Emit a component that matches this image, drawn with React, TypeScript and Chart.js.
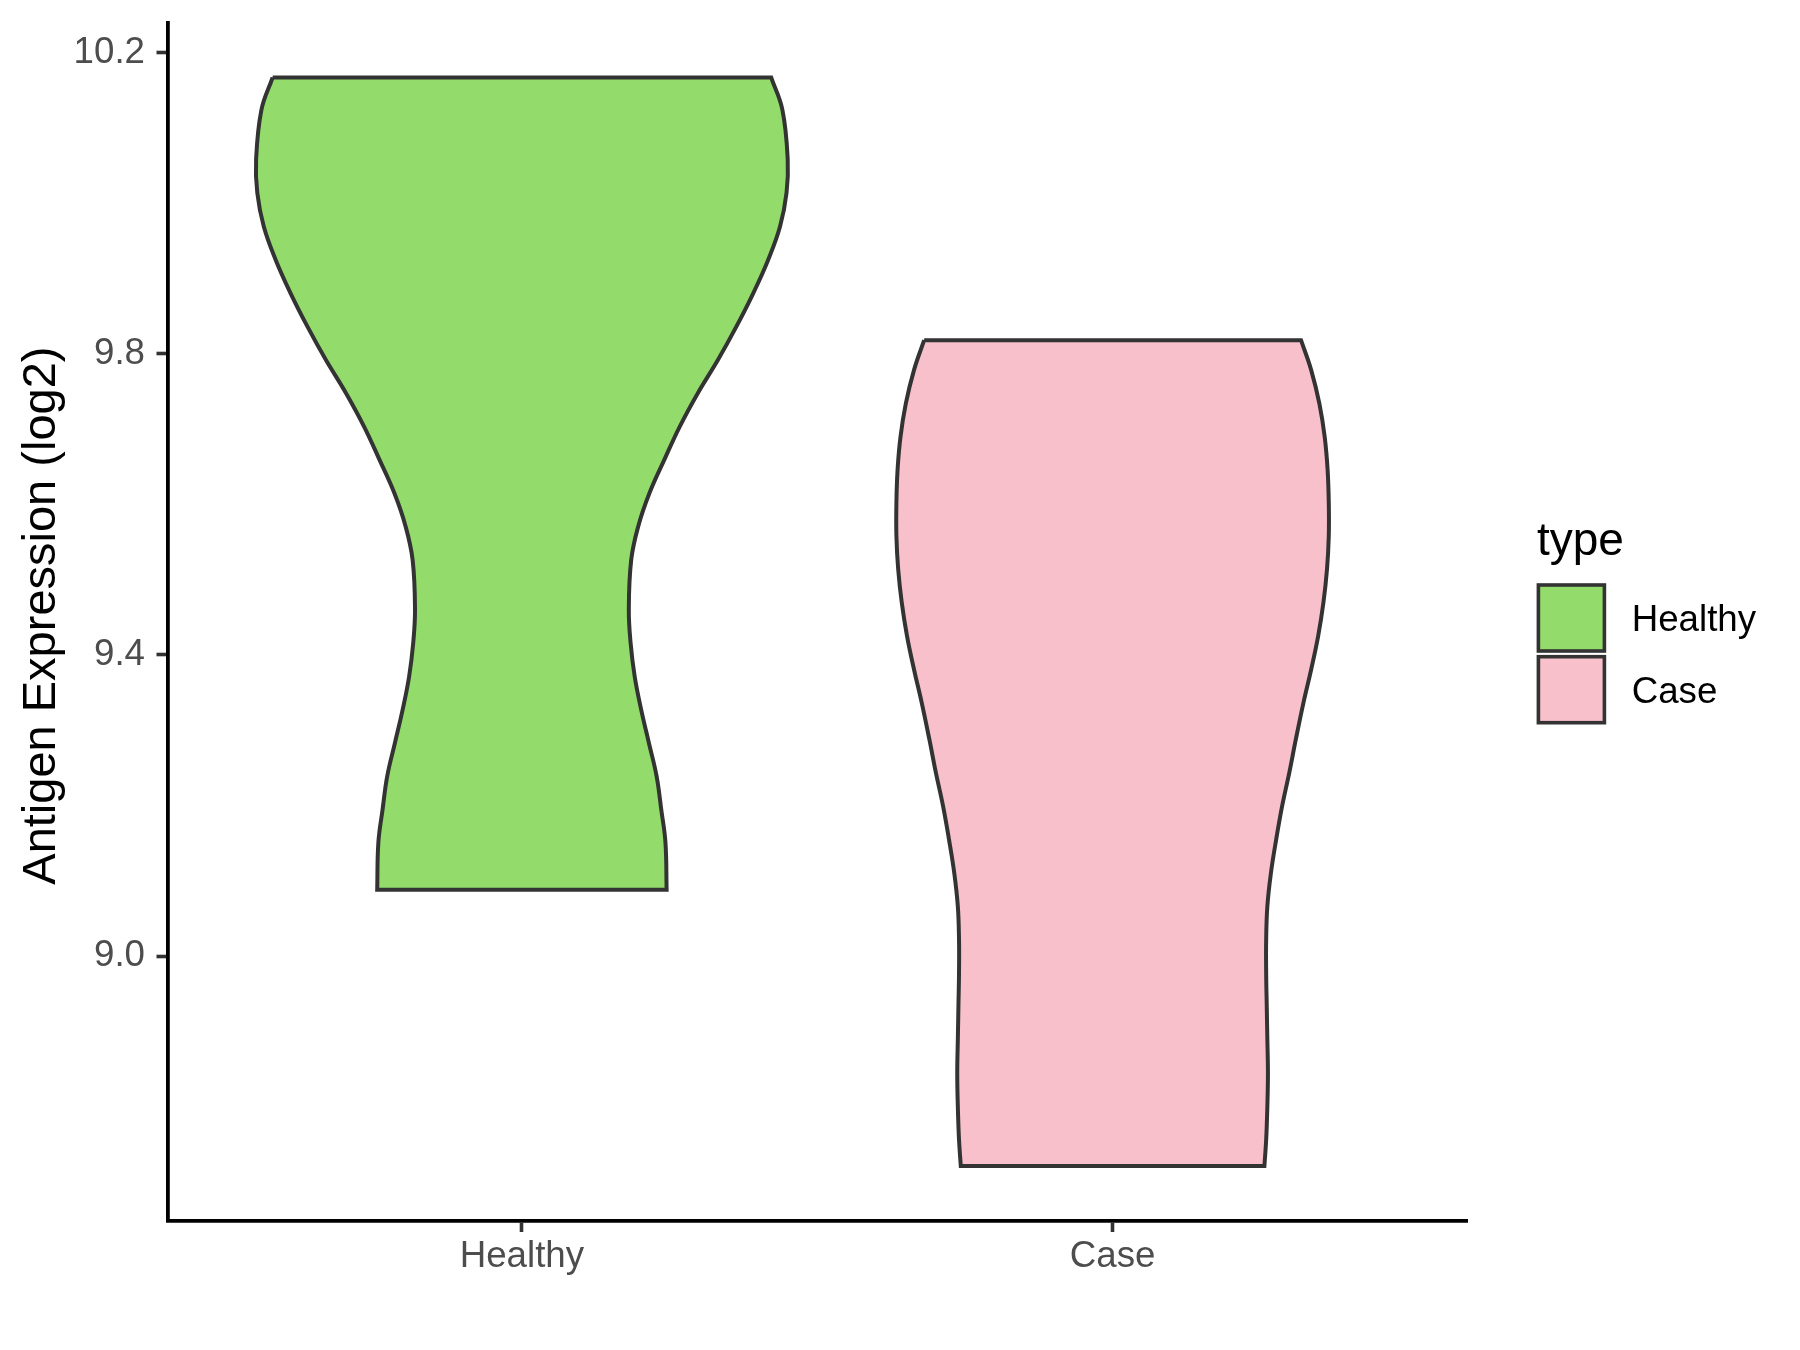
import React, { useEffect, useRef } from "react";
import { Chart, registerables } from "chart.js";

Chart.register(...registerables);

// ---- data ----
const categories = ["Healthy", "Case"];
const fillColors = ["#93DC6B", "#F7C0CB"];
const yTicks = [9.0, 9.4, 9.8, 10.2];
const legendTitle = "type";
const yTitle = " Antigen Expression (log2)";

// Healthy violin: y values (top -> bottom) and half-widths (category units)
const healthyY = [
  10.167, 10.124, 10.058, 10.014, 9.969, 9.925, 9.881, 9.836, 9.792, 9.748,
  9.703, 9.659, 9.615, 9.571, 9.526, 9.46, 9.416, 9.371, 9.327, 9.283,
  9.239, 9.194, 9.151, 9.088,
];
const healthyHalf = [
  0.422, 0.441, 0.45, 0.448, 0.437, 0.417, 0.392, 0.363, 0.332, 0.298, 0.267,
  0.241, 0.216, 0.197, 0.185, 0.181, 0.184, 0.191, 0.202, 0.215, 0.228,
  0.236, 0.243, 0.245,
];

// Case violin
const caseY = [
  9.818, 9.779, 9.734, 9.69, 9.646, 9.602, 9.558, 9.514, 9.47, 9.425, 9.38,
  9.336, 9.287, 9.243, 9.199, 9.155, 9.11, 9.066, 9.022, 8.977, 8.933,
  8.889, 8.845, 8.8, 8.756, 8.721,
];
const caseHalf = [
  0.319, 0.336, 0.35, 0.359, 0.364, 0.366, 0.366, 0.363, 0.357, 0.348, 0.336,
  0.323, 0.31, 0.299, 0.287, 0.277, 0.268, 0.262, 0.26, 0.26, 0.261,
  0.262, 0.263, 0.262, 0.26, 0.257,
];

const FONT = "'Liberation Sans', Arial, Helvetica, sans-serif";

function violinPolygon(center: number, ys: number[], half: number[]) {
  const pts: { x: number; y: number }[] = [];
  const n = ys.length;
  // corners are duplicated so that the flat top/bottom edges stay straight
  pts.push({ x: center - half[0], y: ys[0] });
  for (let i = 0; i < n; i++) pts.push({ x: center - half[i], y: ys[i] });
  pts.push({ x: center - half[n - 1], y: ys[n - 1] });
  pts.push({ x: center + half[n - 1], y: ys[n - 1] });
  for (let i = n - 1; i >= 0; i--) pts.push({ x: center + half[i], y: ys[i] });
  pts.push({ x: center + half[0], y: ys[0] });
  pts.push({ x: center - half[0], y: ys[0] });
  return pts;
}

const legendPlugin = {
  id: "violinLegend",
  afterDraw(chart: any) {
    const ctx = chart.ctx;
    ctx.save();
    ctx.textAlign = "left";
    ctx.textBaseline = "alphabetic";
    ctx.fillStyle = "#000000";
    ctx.font = `46px ${FONT}`;
    ctx.fillText(legendTitle, 1537, 555);
    chart.data.datasets.forEach((ds: any, i: number) => {
      const top = 585 + i * 71.7;
      ctx.fillStyle = ds.backgroundColor;
      ctx.fillRect(1538.4, top, 66, 66);
      ctx.strokeStyle = "#333333";
      ctx.lineWidth = 3.6;
      ctx.strokeRect(1538.4, top, 66, 66);
      ctx.fillStyle = "#000000";
      ctx.font = `36.7px ${FONT}`;
      ctx.fillText(ds.label, 1631.7, top + 46);
    });
    ctx.restore();
  },
};

export default function App() {
  const ref = useRef<HTMLCanvasElement | null>(null);

  useEffect(() => {
    if (!ref.current) return;
    const series = [
      { ys: healthyY, half: healthyHalf },
      { ys: caseY, half: caseHalf },
    ];
    const chart = new Chart(ref.current, {
      type: "scatter",
      data: {
        datasets: categories.map((c, i) => ({
          label: c,
          data: violinPolygon(i + 1, series[i].ys, series[i].half),
          showLine: true,
          fill: "shape",
          backgroundColor: fillColors[i],
          borderColor: "#333333",
          borderWidth: 4,
          tension: 0.4,
          pointRadius: 0,
          pointHoverRadius: 0,
          borderJoinStyle: "miter",
        })),
      } as any,
      options: {
        responsive: false,
        animation: false,
        layout: { padding: { top: 23.3, right: 333, left: 0, bottom: 0 } },
        plugins: {
          legend: { display: false },
          tooltip: { enabled: false },
        },
        scales: {
          x: {
            type: "linear",
            min: 0.4,
            max: 2.6,
            afterBuildTicks: (s: any) => {
              s.ticks = categories.map((_, i) => ({ value: i + 1 }));
            },
            afterFit: (s: any) => {
              s.height = 129;
              s.paddingLeft = 0;
              s.paddingRight = 0;
            },
            ticks: {
              callback: (_v: any, idx: number) => categories[idx],
              font: { family: FONT, size: 36.7 },
              color: "#4D4D4D",
              padding: 3,
              autoSkip: false,
              maxRotation: 0,
            },
            grid: {
              display: true,
              drawOnChartArea: false,
              drawTicks: true,
              tickLength: 11,
              tickWidth: 3.6,
              tickColor: "#333333",
            },
            border: { display: true, color: "#000000", width: 3.8 },
          },
          y: {
            type: "linear",
            min: 8.648,
            max: 10.239,
            afterBuildTicks: (s: any) => {
              s.ticks = yTicks.map((v) => ({ value: v }));
            },
            afterFit: (s: any) => {
              s.width = 167.5;
              s.paddingTop = 0;
              s.paddingBottom = 0;
            },
            ticks: {
              callback: (v: any) => Number(v).toFixed(1),
              font: { family: FONT, size: 36.7 },
              color: "#4D4D4D",
              padding: 11.5,
              autoSkip: false,
            },
            grid: {
              display: true,
              drawOnChartArea: false,
              drawTicks: true,
              tickLength: 11,
              tickWidth: 3.6,
              tickColor: "#333333",
            },
            border: { display: true, color: "#000000", width: 3.8 },
            title: {
              display: true,
              text: yTitle,
              color: "#000000",
              font: { family: FONT, size: 47, lineHeight: 1.2 },
              padding: { top: 13.5, bottom: 0 },
            },
          },
        },
      } as any,
      plugins: [legendPlugin],
    });
    return () => chart.destroy();
  }, []);

  return (
    <div
      style={{
        position: "absolute",
        left: 0,
        top: 0,
        width: 1800,
        height: 1350,
        background: "#ffffff",
      }}
    >
      <canvas ref={ref} width={1800} height={1350} />
    </div>
  );
}
